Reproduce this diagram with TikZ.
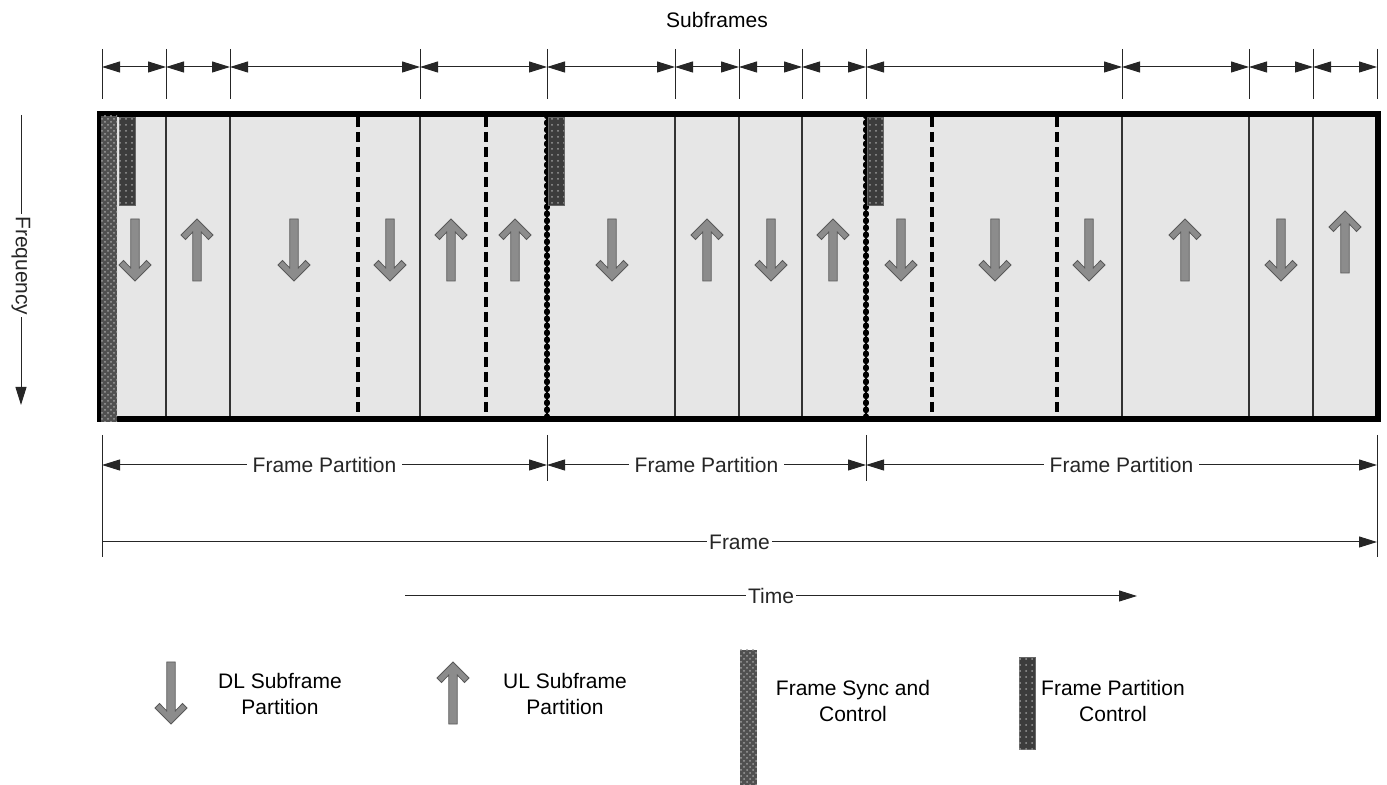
\documentclass[tikz,border=0pt]{standalone}
\usepackage{fontspec}
\setmainfont{Liberation Sans}
\usetikzlibrary{arrows.meta, patterns}

\definecolor{bodygray}{HTML}{E6E6E6}
\definecolor{arrowgray}{HTML}{8C8C8C}
\definecolor{syncgray}{HTML}{505050}
\definecolor{ctrlgray}{HTML}{3C3C3C}

\tikzset{
  dlarrow/.pic={\draw[blockarrow] (-4.2,0) -- (-4.2,49) -- (-11.5,41.5) -- (-16,46) -- (0,62)
    -- (16,46) -- (11.5,41.5) -- (4.2,49) -- (4.2,0) -- cycle;},
  ularrow/.pic={\draw[blockarrow] (-4.2,62) -- (-4.2,13) -- (-11.5,20.5) -- (-16,16) -- (0,0)
    -- (16,16) -- (11.5,20.5) -- (4.2,13) -- (4.2,62) -- cycle;},
}

\begin{document}
\begin{tikzpicture}[x=0.5pt, y=-0.5pt,
    every node/.style={font=\fontsize{10.5pt}{13pt}\selectfont},
    dim/.style={line width=0.5pt, black!85, {Triangle[length=9pt, width=5.5pt]}-{Triangle[length=9pt, width=5.5pt]}},
    dimr/.style={line width=0.5pt, black!85, -{Triangle[length=9pt, width=5.5pt]}},
    dimlabel/.style={fill=white, inner sep=1pt},
    tick/.style={line width=0.5pt, black!85},
    blockarrow/.style={fill=arrowgray, draw=black!65, line width=0.4pt},
    subline/.style={line width=0.6pt, black!80},
    dashline/.style={line width=1.8pt, dash pattern=on 5pt off 2.5pt},
    partline/.style={line width=2.6pt, dash pattern=on 0.8pt off 2.7pt, line cap=round},
    syncbar/.style={fill=syncgray, postaction={pattern=crosshatch dots, pattern color=gray!75}},
    ctrlbar/.style={fill=ctrlgray, draw=black!60, line width=0.4pt, postaction={pattern=dots, pattern color=gray!80}}]
  \useasboundingbox (0,0) rectangle (1387,785);

  % subframe widths
  \node (subframes) at (717,20) {Subframes};
  \foreach \x [count=\i, remember=\i as \lasti (initially 0)] in {102,166,230,420,547,675,739,802,866,1122,1249,1313,1377} {
    \coordinate (t\i) at (\x,67);
    \draw [tick] (\x,49) -- (\x,99);
    \ifnum\i>1 \draw [dim] (t\lasti) -- (t\i); \fi
  }

  % frame body
  \fill [bodygray] (100,114) rectangle (1378,419);
  \foreach \x in {166,230,420,675,739,802,1122,1249,1313}
    \draw [subline] (\x,116) -- (\x,417);
  \foreach \x in {358,486,932,1057}
    \draw [dashline] (\x,117) -- (\x,416);

  \foreach \x/\d in {135/dl,197/ul,294/dl,390/dl,451/ul,515/ul,612/dl,707/ul,771/dl,833/ul,
                     901/dl,995/dl,1089/dl,1185/ul,1281/dl}
    \pic at (\x,219) {\d arrow};
  \pic at (1345,211) {ularrow};

  \draw [line width=2.7pt] (100,114) rectangle (1378,419);
  \foreach \x in {547,866} {
    \draw [line width=1pt] (\x,114) -- (\x,422);
    \draw [partline] (\x,115) -- (\x,421);
  }

  \fill [syncbar] (101,116) rectangle (117,422);
  \foreach \x in {119,548,867}
    \filldraw [ctrlbar] (\x,117) rectangle (\x+16,205);

  % frequency axis
  \coordinate (fq1) at (21,115);
  \coordinate (fq2) at (21,405);
  \draw [dimr] (fq1) -- (fq2) node[pos=0.52, dimlabel, rotate=-90] (freq) {Frequency};

  % partitions and frame
  \coordinate (p1) at (102,465);
  \coordinate (p2) at (547,465);
  \coordinate (p3) at (866,465);
  \coordinate (p4) at (1377,465);
  \draw [tick] (102,435) -- (102,557);
  \draw [tick] (547,435) -- (547,481);
  \draw [tick] (866,435) -- (866,481);
  \draw [tick] (1377,435) -- (1377,557);
  \draw [dim] (p1) -- (p2) node[midway, dimlabel, inner xsep=3pt] (fp1) {Frame Partition};
  \draw [dim] (p2) -- (p3) node[midway, dimlabel, inner xsep=3pt] (fp2) {Frame Partition};
  \draw [dim] (p3) -- (p4) node[midway, dimlabel, inner xsep=3pt] (fp3) {Frame Partition};

  \coordinate (f1) at (102,542);
  \coordinate (f2) at (1377,542);
  \draw [dimr] (f1) -- (f2) node[pos=0.5, dimlabel] (frame) {Frame};

  \coordinate (tm1) at (405,596);
  \coordinate (tm2) at (1137,596);
  \draw [dimr] (tm1) -- (tm2) node[midway, dimlabel] (time) {Time};

  % legend
  \pic at (171,662) {dlarrow};
  \node [align=center] (dllabel) at (280,694) {DL Subframe\\Partition};
  \pic at (453,662) {ularrow};
  \node [align=center] (ullabel) at (565,694) {UL Subframe\\Partition};
  \fill [syncbar] (740,650) rectangle (757,785);
  \node [align=center] (synclabel) at (853,701) {Frame Sync and\\Control};
  \filldraw [ctrlbar] (1019,657) rectangle (1035,749);
  \node [align=center] (ctrllabel) at (1113,701) {Frame Partition\\Control};
\end{tikzpicture}
\end{document}
